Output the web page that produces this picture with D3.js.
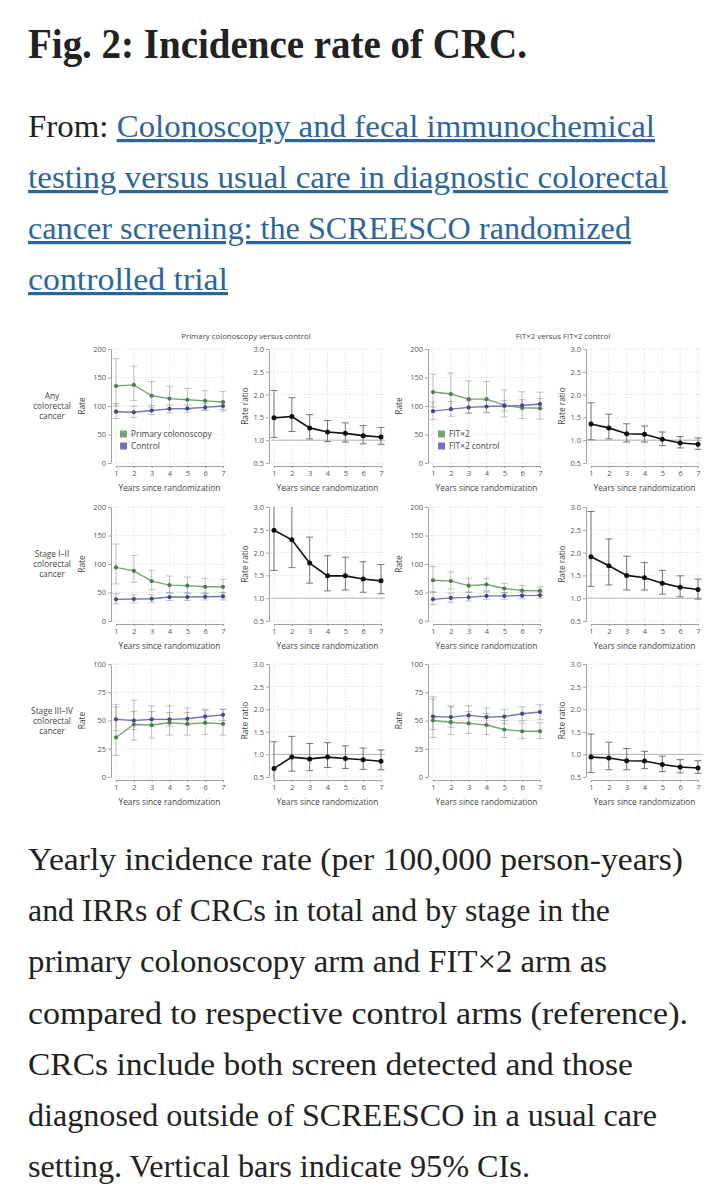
<!DOCTYPE html>
<html><head><meta charset="utf-8">
<script src="https://cdn.jsdelivr.net/npm/d3@7"></script>
<style>
html,body{margin:0;padding:0;background:#fff;}
svg{display:block;}
</style></head><body>
<svg id="c" width="727" height="1200"></svg>
<script>
// ---------------- DATA ----------------
const titleText = "Fig. 2: Incidence rate of CRC.";
const fromLabel = "From: ";
const linkLines = ["Colonoscopy and fecal immunochemical",
  "testing versus usual care in diagnostic colorectal",
  "cancer screening: the SCREESCO randomized",
  "controlled trial"];
const captionLines = ["Yearly incidence rate (per 100,000 person-years)",
  "and IRRs of CRCs in total and by stage in the",
  "primary colonoscopy arm and FIT×2 arm as",
  "compared to respective control arms (reference).",
  "CRCs include both screen detected and those",
  "diagnosed outside of SCREESCO in a usual care",
  "setting. Vertical bars indicate 95% CIs."];

const years = [1, 2, 3, 4, 5, 6, 7];
const columnTitles = ["Primary colonoscopy versus control", "FIT×2 versus FIT×2 control"];
const legendLabels = [["Primary colonoscopy", "Control"], ["FIT×2", "FIT×2 control"]];
const rowLabels = [["Any", "colorectal", "cancer"], ["Stage I–II", "colorectal", "cancer"], ["Stage III–IV", "colorectal", "cancer"]];
const rateTicks = [[0, 50, 100, 150, 200], [0, 50, 100, 150, 200], [0, 25, 50, 75, 100]];
const ratioTicks = [0.5, 1.0, 1.5, 2.0, 2.5, 3.0];
const xAxisTitle = "Years since randomization";

// Row 1: any CRC, colonoscopy arm vs control
const colAnyRate = [135, 137, 118, 113, 111, 109, 107];
const colAnyLo   = [100, 110, 97, 95, 94, 93, 91];
const colAnyHi   = [183, 170, 143, 134, 131, 127, 126];
const ctlAnyRate = [90, 89, 92, 95, 95.5, 97.5, 100];
const ctlAnyLo   = [78, 80, 85, 88, 89, 92, 94];
const ctlAnyHi   = [104, 100, 101, 102, 102, 104, 106];
const colAnyIrr   = [1.49, 1.52, 1.27, 1.18, 1.15, 1.10, 1.07];
const colAnyIrrLo = [1.06, 1.19, 1.03, 0.97, 0.96, 0.92, 0.91];
const colAnyIrrHi = [2.09, 1.93, 1.56, 1.43, 1.38, 1.32, 1.28];
// Row 1: any CRC, FIT×2 arm vs control
const fitAnyRate = [124.5, 121, 112, 112, 101.5, 97, 96];
const fitAnyLo   = [98, 94, 88, 88, 81, 78, 77];
const fitAnyHi   = [156, 158, 144, 143, 128, 125, 124];
const fctAnyRate = [91, 94.5, 97.5, 99, 100, 101, 103.5];
const fctAnyLo   = [76, 82, 87, 89, 91, 93, 95];
const fctAnyHi   = [107, 108, 109, 110, 110, 111, 113];
const fitAnyIrr   = [1.355, 1.27, 1.14, 1.13, 1.02, 0.94, 0.91];
const fitAnyIrrLo = [1.01, 1.03, 0.96, 0.96, 0.88, 0.83, 0.80];
const fitAnyIrrHi = [1.82, 1.57, 1.36, 1.31, 1.18, 1.08, 1.05];
// Row 2: stage I–II
const col12Rate = [94, 88, 70, 63, 62, 60, 60];
const col12Lo   = [65, 68, 55, 50, 49, 48, 47];
const col12Hi   = [135, 115, 89, 79, 77, 75, 73];
const ctl12Rate = [38, 38.5, 39, 42, 42, 42.5, 43];
const ctl12Lo   = [30, 32, 33, 36, 36, 37, 37];
const ctl12Hi   = [48, 46, 46, 49, 49, 49, 50];
const col12Irr   = [2.49, 2.28, 1.77, 1.49, 1.49, 1.42, 1.38];
const col12IrrLo = [1.61, 1.67, 1.33, 1.16, 1.18, 1.13, 1.10];
const col12IrrHi = [3.85, 3.10, 2.34, 1.93, 1.90, 1.80, 1.74];
const fit12Rate = [71.5, 70, 62, 64, 57, 53.5, 53];
const fit12Lo   = [52, 56, 51, 53, 49, 46, 46];
const fit12Hi   = [96, 86, 75, 75, 66, 62, 60];
const fct12Rate = [38, 40.5, 41.5, 44, 44, 44.5, 45];
const fct12Lo   = [29, 33, 35, 38, 38, 39, 40];
const fct12Hi   = [50, 49, 50, 51, 50, 51, 51];
const fit12Irr   = [1.91, 1.71, 1.50, 1.45, 1.33, 1.24, 1.19];
const fit12IrrLo = [1.26, 1.29, 1.18, 1.18, 1.09, 1.03, 0.98];
const fit12IrrHi = [2.90, 2.30, 1.92, 1.78, 1.61, 1.49, 1.42];
// Row 3: stage III–IV
const col34Rate = [35, 46.5, 46, 48, 47, 48, 47];
const col34Lo   = [19, 32.5, 34.5, 37, 37, 37.5, 37];
const col34Hi   = [64, 68, 63, 63, 61, 60, 60];
const ctl34Rate = [51, 50, 51, 51, 51.5, 53.5, 55];
const ctl34Lo   = [41, 42, 45, 45, 46, 48, 50];
const ctl34Hi   = [62, 58, 58, 57, 57, 59, 60];
const col34Irr   = [0.69, 0.94, 0.90, 0.94, 0.91, 0.88, 0.85];
const col34IrrLo = [0.37, 0.63, 0.64, 0.71, 0.69, 0.67, 0.66];
const col34IrrHi = [1.28, 1.40, 1.24, 1.26, 1.19, 1.14, 1.10];
const fit34Rate = [50, 48.5, 47.5, 46, 42, 40.5, 40.5];
const fit34Lo   = [35, 37.5, 38.5, 37.5, 35, 34, 34];
const fit34Hi   = [71, 62, 58, 56, 50, 48, 48];
const fct34Rate = [53.5, 53, 54.5, 53, 53.5, 56, 57.5];
const fct34Lo   = [42, 44, 47, 46, 47, 50, 51];
const fct34Hi   = [69, 63, 63, 61, 60, 62, 64];
const fit34Irr   = [0.94, 0.92, 0.86, 0.855, 0.775, 0.72, 0.70];
const fit34IrrLo = [0.60, 0.66, 0.66, 0.685, 0.62, 0.59, 0.58];
const fit34IrrHi = [1.45, 1.27, 1.13, 1.07, 0.96, 0.885, 0.86];

// ------------- assemble -------------
const ratePanels = [
  [[colAnyRate, colAnyLo, colAnyHi, ctlAnyRate, ctlAnyLo, ctlAnyHi], [fitAnyRate, fitAnyLo, fitAnyHi, fctAnyRate, fctAnyLo, fctAnyHi]],
  [[col12Rate, col12Lo, col12Hi, ctl12Rate, ctl12Lo, ctl12Hi], [fit12Rate, fit12Lo, fit12Hi, fct12Rate, fct12Lo, fct12Hi]],
  [[col34Rate, col34Lo, col34Hi, ctl34Rate, ctl34Lo, ctl34Hi], [fit34Rate, fit34Lo, fit34Hi, fct34Rate, fct34Lo, fct34Hi]]
];
const ratioPanels = [
  [[colAnyIrr, colAnyIrrLo, colAnyIrrHi], [fitAnyIrr, fitAnyIrrLo, fitAnyIrrHi]],
  [[col12Irr, col12IrrLo, col12IrrHi], [fit12Irr, fit12IrrLo, fit12IrrHi]],
  [[col34Irr, col34IrrLo, col34IrrHi], [fit34Irr, fit34IrrLo, fit34IrrHi]]
];

const svg = d3.select("#c");
const serif = "'Liberation Serif', 'DejaVu Serif', serif";
const sans = "'Open Sans', 'Noto Sans', sans-serif";
const ink = "#222";
const linkBlue = "#2c6599";

// ---------- header ----------
svg.append("text").attr("x", 28).attr("y", 58)
  .attr("font-family", serif).attr("font-weight", "bold").attr("font-size", 43)
  .attr("fill", ink).attr("textLength", 499).attr("lengthAdjust", "spacingAndGlyphs")
  .text(titleText);

const linkBase = [137, 188, 239, 290];
const linkLen = [627, 640, 603, 200];
linkLines.forEach((l, i) => {
  const t = svg.append("text").attr("x", 28).attr("y", linkBase[i])
    .attr("font-family", serif).attr("font-size", 32)
    .attr("textLength", linkLen[i]).attr("lengthAdjust", "spacingAndGlyphs");
  if (i === 0) t.append("tspan").attr("fill", ink).text(fromLabel);
  t.append("tspan").attr("fill", linkBlue).attr("text-decoration", "underline").text(l);
});

// ---------- caption ----------
const capBase = [870, 921, 972, 1024, 1075, 1126, 1177];
const capLen = [655, 582, 579, 660, 605, 629, 502];
captionLines.forEach((l, i) => {
  svg.append("text").attr("x", 28).attr("y", capBase[i])
    .attr("font-family", serif).attr("font-size", 31).attr("fill", ink)
    .attr("textLength", capLen[i]).attr("lengthAdjust", "spacingAndGlyphs")
    .text(l);
});

// ---------- panels ----------
const colX1 = [116, 274, 433, 591];
const plotW = 107;
const rowTop = [349, 507, 664];
const rowBot = [463, 621, 777];
const green = "#79a374", greenDark = "#4f7e4e";
const purple = "#7473b8", purpleDark = "#46468e";
const gridCol = "#cfcfcf", axisCol = "#8a8a8a", tickText = "#555";

const defs = svg.append("defs");

function frame(g, x, y, ticks, fmt, yTitle, titleOff) {
  const [x0, x7] = x.range();
  const [yb, yt] = y.range();
  g.append("g").selectAll("line").data(years).join("line")
    .attr("x1", d => x(d)).attr("x2", d => x(d))
    .attr("y1", yt).attr("y2", yb + 2)
    .attr("stroke", gridCol).attr("stroke-width", 0.7).attr("stroke-dasharray", "1.2,1.8");
  g.append("g").selectAll("line").data(ticks).join("line")
    .attr("x1", x0 - 3).attr("x2", x7 + 4)
    .attr("y1", d => y(d)).attr("y2", d => y(d))
    .attr("stroke", gridCol).attr("stroke-width", 0.7).attr("stroke-dasharray", "1.2,1.8");
  const ya = g.append("g").attr("transform", `translate(${x0 - 5},0)`)
    .call(d3.axisLeft(y).tickValues(ticks).tickFormat(fmt).tickSize(3).tickSizeOuter(0).tickPadding(2));
  const xa = g.append("g").attr("transform", `translate(0,${yb + 3})`)
    .call(d3.axisBottom(x).tickValues(years).tickFormat(d3.format("d")).tickSize(2).tickSizeOuter(0).tickPadding(3));
  [ya, xa].forEach(a => {
    a.select(".domain").attr("stroke", axisCol).attr("stroke-width", 0.8);
    a.selectAll(".tick line").attr("stroke", axisCol).attr("stroke-width", 0.8);
    a.selectAll(".tick text").attr("fill", tickText).attr("font-family", sans).attr("font-size", 7.5);
  });
  g.append("text").attr("transform", `translate(${x0 - 5 - titleOff},${(yt + yb) / 2}) rotate(-90)`)
    .attr("text-anchor", "middle").attr("dy", "0.35em")
    .attr("font-family", sans).attr("font-size", 8.3).attr("fill", "#444").text(yTitle);
  g.append("text").attr("x", (x0 + x7) / 2).attr("y", yb + 28)
    .attr("text-anchor", "middle").attr("font-family", sans).attr("font-size", 8.3).attr("fill", "#444")
    .text(xAxisTitle);
}

function errBars(g, x, y, v, lo, hi, col, capW, sw, clipId) {
  const eg = g.append("g").attr("clip-path", `url(#${clipId})`);
  const d = years.map((yr, i) => ({yr, lo: lo[i], hi: hi[i]}));
  eg.selectAll("line.v").data(d).join("line").attr("class", "v")
    .attr("x1", e => x(e.yr)).attr("x2", e => x(e.yr))
    .attr("y1", e => y(e.lo)).attr("y2", e => y(e.hi))
    .attr("stroke", col).attr("stroke-width", sw);
  ["lo", "hi"].forEach(k => {
    eg.selectAll("line." + k).data(d).join("line").attr("class", k)
      .attr("x1", e => x(e.yr) - capW / 2).attr("x2", e => x(e.yr) + capW / 2)
      .attr("y1", e => y(e[k])).attr("y2", e => y(e[k]))
      .attr("stroke", col).attr("stroke-width", sw);
  });
}

function series(g, x, y, v, lineCol, dotCol, lw, r) {
  const d = years.map((yr, i) => [yr, v[i]]);
  g.append("path").datum(d)
    .attr("d", d3.line().x(p => x(p[0])).y(p => y(p[1])))
    .attr("fill", "none").attr("stroke", lineCol).attr("stroke-width", lw);
  g.append("g").selectAll("circle").data(d).join("circle")
    .attr("cx", p => x(p[0])).attr("cy", p => y(p[1])).attr("r", r).attr("fill", dotCol);
}

for (let r = 0; r < 3; r++) {
  for (let c = 0; c < 2; c++) {
    const ci = c * 2;
    const x = d3.scaleLinear().domain([1, 7]).range([colX1[ci], colX1[ci] + plotW]);
    const tks = rateTicks[r];
    const y = d3.scaleLinear().domain([0, tks[tks.length - 1]]).range([rowBot[r], rowTop[r]]);
    const g = svg.append("g");
    const clipA = `clip-${r}-${ci}`;
    defs.append("clipPath").attr("id", clipA).append("rect")
      .attr("x", colX1[ci] - 10).attr("width", plotW + 20).attr("y", rowTop[r]).attr("height", rowBot[r] - rowTop[r] + 3);
    frame(g, x, y, tks, d3.format("d"), "Rate", 29);
    const p = ratePanels[r][c];
    errBars(g, x, y, p[0], p[1], p[2], "rgba(120,120,120,0.55)", 7, 0.8, clipA);
    errBars(g, x, y, p[3], p[4], p[5], "rgba(120,120,120,0.55)", 7, 0.8, clipA);
    series(g, x, y, p[0], green, greenDark, 1.4, 2.1);
    series(g, x, y, p[3], purple, purpleDark, 1.4, 2.1);

    const cj = c * 2 + 1;
    const x2 = d3.scaleLinear().domain([1, 7]).range([colX1[cj], colX1[cj] + plotW]);
    const y2 = d3.scaleLinear().domain([0.5, 3.0]).range([rowBot[r], rowTop[r]]);
    const g2 = svg.append("g");
    const clipB = `clip-${r}-${cj}`;
    defs.append("clipPath").attr("id", clipB).append("rect")
      .attr("x", colX1[cj] - 10).attr("width", plotW + 20).attr("y", rowTop[r]).attr("height", rowBot[r] - rowTop[r] + 3);
    frame(g2, x2, y2, ratioTicks, d3.format(".1f"), "Rate ratio", 24);
    g2.append("line").attr("x1", colX1[cj] - 3).attr("x2", colX1[cj] + plotW + 4)
      .attr("y1", y2(1)).attr("y2", y2(1)).attr("stroke", "#b5b5b5").attr("stroke-width", 1);
    const q = ratioPanels[r][c];
    errBars(g2, x2, y2, q[0], q[1], q[2], "#666", 7, 0.9, clipB);
    series(g2, x2, y2, q[0], "#111", "#111", 1.6, 2.5);
  }
  const rl = svg.append("text").attr("text-anchor", "middle")
    .attr("font-family", sans).attr("font-size", 8.3).attr("fill", "#444");
  rowLabels[r].forEach((s, i) => {
    rl.append("tspan").attr("x", 52).attr("y", (rowTop[r] + rowBot[r]) / 2 + (i - 1) * 10 + 3).text(s);
  });
}

[[0, 1], [2, 3]].forEach((pair, k) => {
  const cx = (colX1[pair[0]] - 5 + colX1[pair[1]] + plotW) / 2;
  svg.append("text").attr("x", cx).attr("y", 339).attr("text-anchor", "middle")
    .attr("font-family", sans).attr("font-size", 7.8).attr("fill", "#444").text(columnTitles[k]);
});

[[120, 0], [438, 1]].forEach(([lx, k]) => {
  [[green, 434], [purple, 446]].forEach(([col, cy], j) => {
    svg.append("rect").attr("x", lx).attr("y", cy - 3.5).attr("width", 7).attr("height", 7).attr("fill", col);
    svg.append("text").attr("x", lx + 11).attr("y", cy + 3)
      .attr("font-family", sans).attr("font-size", 8.3).attr("fill", "#444").text(legendLabels[k][j]);
  });
});
</script>
</body></html>
